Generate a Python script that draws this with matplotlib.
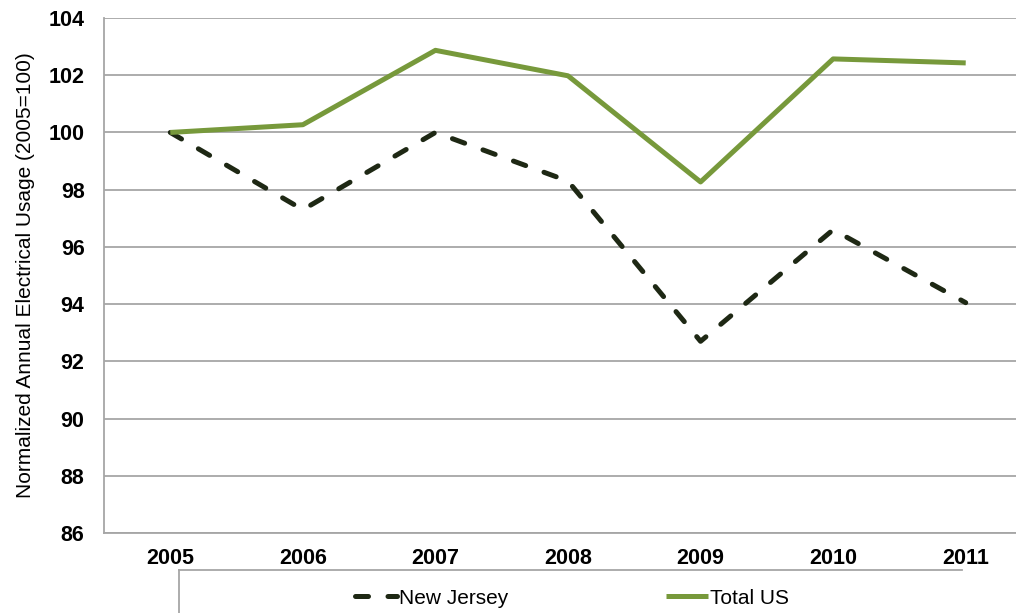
import matplotlib.pyplot as plt
from matplotlib.lines import Line2D

plt.rcParams['font.family'] = ['Liberation Sans', 'DejaVu Sans']

# yearly usage, normalized so 2005 = 100
years = ['2005', '2006', '2007', '2008', '2009', '2010', '2011']
new_jersey = [100.0, 97.3, 100.0, 98.3, 92.7, 96.6, 94.05]
total_us = [100.0, 100.27, 102.87, 101.98, 98.27, 102.57, 102.43]
y_ticks = [86, 88, 90, 92, 94, 96, 98, 100, 102, 104]

green = '#77993b'
dark = '#1e2814'
grid_grey = '#a6a6a6'

fig = plt.figure(figsize=(10.16, 6.13), dpi=100)
ax = fig.add_axes([104 / 1016, 1 - 533 / 613, 928 / 1016, 515 / 613])

x = list(range(len(years)))
nj_line, = ax.plot(x, new_jersey, color=dark, lw=3.6,
                   linestyle=(0, (2.6, 3.9)), dash_capstyle='round',
                   solid_joinstyle='round', label='New Jersey', zorder=3)
us_line, = ax.plot(x, total_us, color=green, lw=3.6, solid_joinstyle='round',
                   solid_capstyle='butt', label='Total US', zorder=3)

ax.set_xlim(-0.5, len(years) - 0.5)
ax.set_ylim(86, 104)
ax.set_yticks(y_ticks)
ax.set_xticks(x)
ax.set_xticklabels(years)
ax.yaxis.grid(True, color=grid_grey, lw=1.3)
ax.set_axisbelow(True)

for side in ['top', 'right']:
    ax.spines[side].set_visible(False)
for side in ['left', 'bottom']:
    ax.spines[side].set_color(grid_grey)
    ax.spines[side].set_linewidth(1.3)

ax.tick_params(axis='both', length=0, labelsize=15.5)
ax.tick_params(axis='x', pad=11)
ax.tick_params(axis='y', pad=14)
for lbl in ax.get_xticklabels() + ax.get_yticklabels():
    lbl.set_fontweight('bold')

ax.set_ylabel('Normalized Annual Electrical Usage (2005=100)', fontsize=15,
              labelpad=10)

# legend box under the axis: only its top and left edges are in view
box_l, box_r, box_t = 179 / 1016, 962 / 1016, 1 - 570 / 613
fig.add_artist(Line2D([box_l, box_r], [box_t, box_t], transform=fig.transFigure,
                      color=grid_grey, lw=1.3))
fig.add_artist(Line2D([box_l, box_l], [0, box_t], transform=fig.transFigure,
                      color=grid_grey, lw=1.3))
fig.legend(handles=[nj_line, us_line], loc='center',
           bbox_to_anchor=(572 / 1016, 1 - 598 / 613), ncol=2, frameon=False,
           fontsize=15, handlelength=2.0, handletextpad=0.1,
           columnspacing=7.6, borderpad=0)

fig.savefig('out.png', dpi=100)
